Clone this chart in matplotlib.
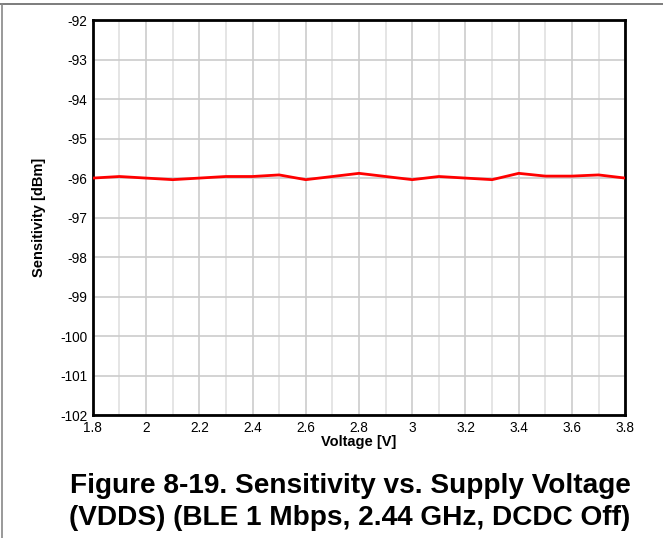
import numpy as np
import matplotlib.pyplot as plt
from matplotlib.lines import Line2D

plt.rcParams['font.family'] = ['Liberation Sans', 'DejaVu Sans']
plt.rcParams['axes.unicode_minus'] = False

voltage = [1.8, 1.9, 2.0, 2.1, 2.2, 2.3, 2.4, 2.5, 2.6, 2.7, 2.8,
           2.9, 3.0, 3.1, 3.2, 3.3, 3.4, 3.5, 3.6, 3.7, 3.8]
sensitivity = [-96.0, -95.96, -96.0, -96.04, -96.0, -95.96, -95.96, -95.92, -96.04, -95.96, -95.88,
               -95.96, -96.04, -95.96, -96.0, -96.04, -95.88, -95.95, -95.95, -95.92, -96.0]

xticks = [1.8, 2.0, 2.2, 2.4, 2.6, 2.8, 3.0, 3.2, 3.4, 3.6, 3.8]
xtick_labels = ['1.8', '2', '2.2', '2.4', '2.6', '2.8', '3', '3.2', '3.4', '3.6', '3.8']
yticks = list(range(-102, -91))

fig = plt.figure(figsize=(6.63, 5.38), dpi=100)
ax = fig.add_axes([0.140, 0.2286, 0.803, 0.734])

ax.plot(voltage, sensitivity, color='#ff0000', lw=2, zorder=3)

ax.set_xlim(1.8, 3.8)
ax.set_ylim(-102, -92)
ax.set_xticks(xticks)
ax.set_xticklabels(xtick_labels)
ax.set_xticks(np.arange(1.9, 3.8, 0.2), minor=True)
ax.set_yticks(yticks)
ax.grid(which='major', color='#cccccc', lw=1.2)
ax.grid(which='minor', axis='x', color='#e0e0e0', lw=1.2)
ax.tick_params(which='both', length=0, labelsize=9.8, pad=4)

for s in ax.spines.values():
    s.set_linewidth(2)
    s.set_color('black')

ax.set_xlabel('Voltage [V]', fontsize=10.5, fontweight='bold', labelpad=0)
ax.set_ylabel('Sensitivity [dBm]', fontsize=10.5, fontweight='bold', labelpad=10)

fig.text(0.528, 0.067, 'Figure 8-19. Sensitivity vs. Supply Voltage\n(VDDS) (BLE 1 Mbps, 2.44 GHz, DCDC Off)',
         ha='center', va='center', fontsize=20.2, fontweight='bold', linespacing=1.3)

fig.add_artist(Line2D([0, 1], [1 - 4 / 538, 1 - 4 / 538], color='#666666', lw=1.2))
fig.add_artist(Line2D([1.5 / 663, 1.5 / 663], [0, 1 - 4 / 538], color='#888888', lw=1.2))

fig.savefig('out.png', dpi=100)
